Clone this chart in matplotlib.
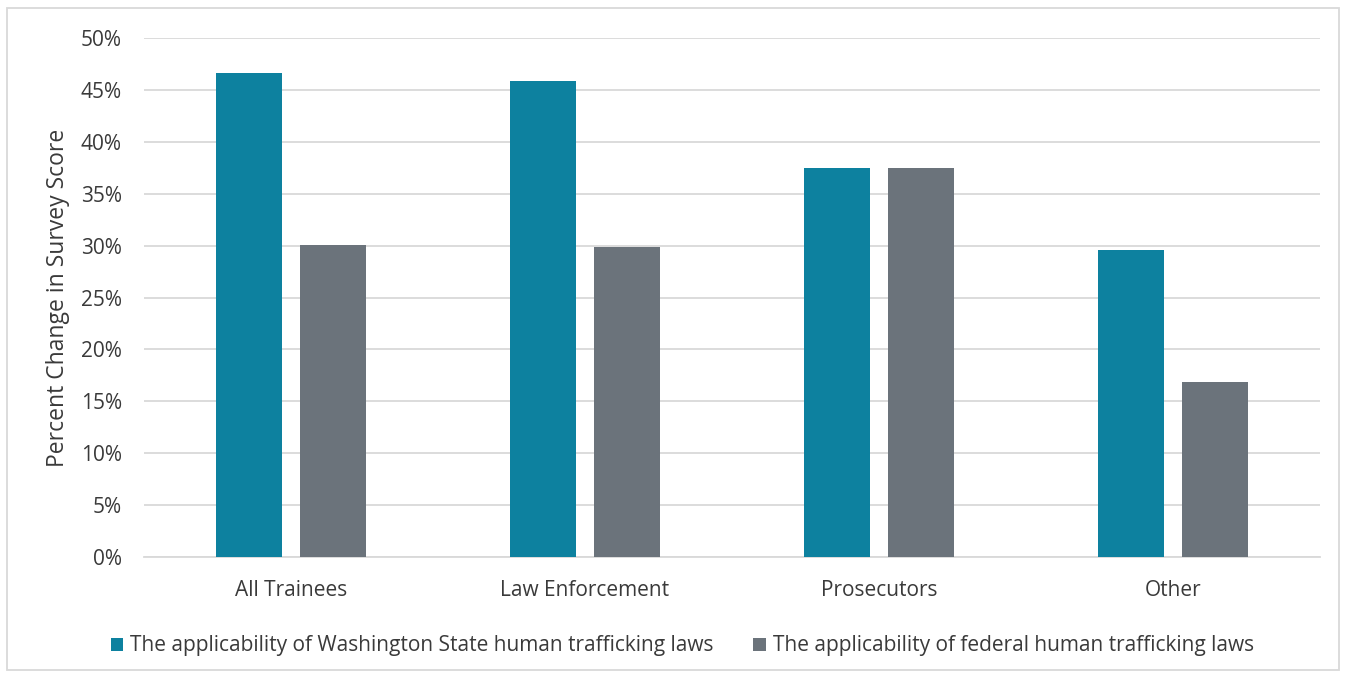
import numpy as np
import matplotlib.pyplot as plt
from matplotlib.patches import Rectangle

plt.rcParams['font.family'] = ['Open Sans', 'DejaVu Sans']

categories = ['All Trainees', 'Law Enforcement', 'Prosecutors', 'Other']
state_laws = [46.6, 45.85, 37.5, 29.6]
federal_laws = [30.05, 29.85, 37.5, 16.9]
series_names = ['The applicability of Washington State human trafficking laws',
                'The applicability of federal human trafficking laws']
teal = '#0d819f'
gray = '#6b737b'
grid_col = '#d9d9d9'
text_col = '#3a3a3a'

fig = plt.figure(figsize=(13.46, 6.75), dpi=100)
ax = fig.add_axes([0.107, 0.1748, 0.8737, 0.7689])

x = np.arange(len(categories))
w = 0.224
b1 = ax.bar(x - 0.142, state_laws, w, color=teal, zorder=3)
b2 = ax.bar(x + 0.142, federal_laws, w, color=gray, zorder=3)

ax.set_xlim(-0.5, len(categories) - 0.5)
ax.set_ylim(0, 50)
ax.set_yticks(np.arange(0, 51, 5))
ax.set_yticklabels([f'{v}%' for v in range(0, 51, 5)])
ax.set_xticks(x)
ax.set_xticklabels(categories)
ax.tick_params(axis='both', length=0, labelsize=15, colors=text_col)
ax.tick_params(axis='y', pad=16)
ax.tick_params(axis='x', pad=16.5)
ax.yaxis.grid(True, color=grid_col, linewidth=1.3, zorder=0)
for side in ['top', 'right', 'left']:
    ax.spines[side].set_visible(False)
ax.spines['bottom'].set_color(grid_col)
ax.spines['bottom'].set_linewidth(1.3)
ax.set_ylabel('Percent Change in Survey Score', fontsize=16.5, color=text_col, labelpad=8)

fig.legend([b1, b2], series_names, loc='center', bbox_to_anchor=(0.507, 0.043),
           ncol=2, frameon=False, fontsize=15, labelcolor=text_col,
           handlelength=0.6, handleheight=0.6, handletextpad=0.35, columnspacing=1.9)

# outer chart border
fig.patches.append(Rectangle((0.0055, 0.008), 0.9895, 0.98, transform=fig.transFigure,
                             fill=False, edgecolor=grid_col, linewidth=1.3))

fig.savefig('out.png', dpi=100)
